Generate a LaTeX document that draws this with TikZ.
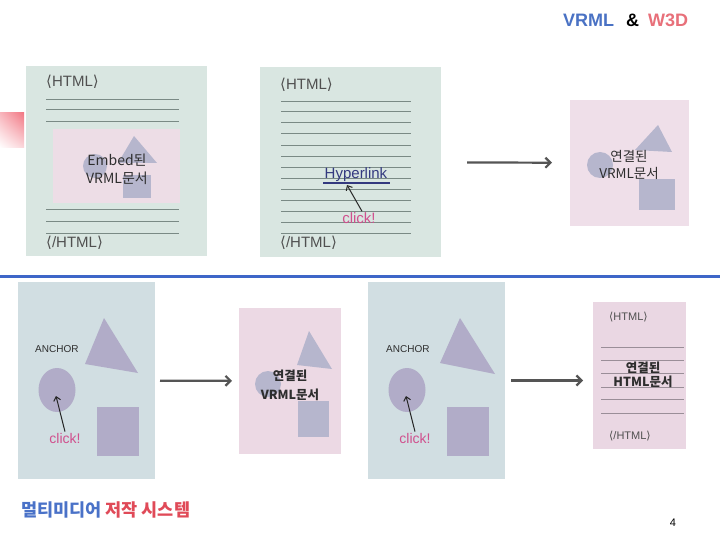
\documentclass[tikz,border=0pt]{standalone}
\usepackage{fontspec}
\setmainfont{Liberation Sans}
\newfontfamily\cjk{Noto Sans CJK KR}
\newfontfamily\dejavu{DejaVu Sans}
\usetikzlibrary{arrows.meta,shadings,shapes.geometric}
\definecolor{titleblue}{HTML}{4A72C4}
\definecolor{titlered}{HTML}{E8707A}
\definecolor{footblue}{HTML}{4A72C8}
\definecolor{footred}{HTML}{E04A58}
\definecolor{sepblue}{HTML}{3E66C8}
\definecolor{pgreen}{HTML}{D9E6E1}
\definecolor{ppinkin}{HTML}{EDDDE6}
\definecolor{ppink3}{HTML}{EFDFE9}
\definecolor{pblue}{HTML}{D1DEE2}
\definecolor{ppink5}{HTML}{ECD9E4}
\definecolor{ppink7}{HTML}{EAD7E3}
\definecolor{shapec}{HTML}{B6B6CD}
\definecolor{shapeb}{HTML}{B1ACC8}
\definecolor{linec}{HTML}{7A8A85}
\definecolor{linep}{HTML}{9A8E98}
\definecolor{tagc}{HTML}{505050}
\definecolor{textc}{HTML}{2E2E2E}
\definecolor{clickc}{HTML}{D0508E}
\definecolor{hypc}{HTML}{33397F}
\definecolor{arrowc}{HTML}{555555}
\definecolor{accA}{HTML}{F27884}
\definecolor{accB}{HTML}{F8B6BD}
\definecolor{accC}{HTML}{FBD8DC}
\newcommand{\lt}{{\dejavu ⟨}}
\newcommand{\gt}{{\dejavu ⟩}}
\begin{document}
\begin{tikzpicture}[x=1pt,y=-1pt,
  panel/.style={draw=none, inner sep=0pt, outer sep=0pt},
  shp/.style={fill=shapec},
  shpb/.style={fill=shapeb},
  hline/.style={draw=linec, line width=1pt},
  hlinep/.style={draw=linep, line width=1pt},
  tag/.style={anchor=west, inner sep=0pt, text=tagc, font=\fontsize{15}{15}\selectfont},
  tagsm/.style={anchor=west, inner sep=0pt, text=tagc, font=\fontsize{11}{11}\selectfont},
  arr/.style={draw=arrowc, line width=2.2pt, -{Straight Barb[length=5pt,width=10pt]}},
  clk/.style={draw=black!85, line width=1pt, -{Straight Barb[length=4pt,width=7pt]}},
  clicktxt/.style={text=clickc, inner sep=1pt},
  anc/.style={anchor=west, inner sep=0pt, text=textc, font=\fontsize{10}{10}\selectfont}
]
\useasboundingbox (0,0) rectangle (720,540);
\fill[white] (0,0) rectangle (720,540);

% title
\node[anchor=base west, inner sep=0pt, font=\bfseries\fontsize{18}{18}\selectfont, text=titleblue] (t1) at (563,27) {VRML};
\node[anchor=base west, inner sep=0pt, font=\bfseries\fontsize{18}{18}\selectfont, text=black] (t2) at (626,27) {\&};
\node[anchor=base west, inner sep=0pt, font=\bfseries\fontsize{18}{18}\selectfont, text=titlered] (t3) at (648,27) {W3D};

% red accent
\shade[upper right=accA, upper left=accB, lower right=accC, lower left=white] (0,113) rectangle (24,148);

% separator
\draw[sepblue, line width=3pt] (0,276.5) -- (720,276.5);

% ---------- panel 1 ----------
\node[panel, fill=pgreen, minimum width=181pt, minimum height=190pt] (p1) at (116.5,161) {};
\node[tag] (p1a) at (46,82) {\lt HTML\gt};
\foreach \yy in {100,110,122,210,222,233} \draw[hline] (46,\yy) -- (179,\yy);
\node[panel, fill=ppinkin, minimum width=127pt, minimum height=74pt] (p1in) at (116.5,166) {};
\fill[shp] (95,166) circle (12);
\fill[shp] (134,136) -- (118,163) -- (157,163) -- cycle;
\fill[shp] (123,175) rectangle (151,198);
\node[font=\cjk\fontsize{14}{18}\selectfont, align=center, text=textc, inner sep=0pt] (e1) at (117,169) {Embed된\\VRML문서};
\node[tag] (p1b) at (46,243) {\lt/HTML\gt};

% ---------- panel 2 ----------
\node[panel, fill=pgreen, minimum width=181pt, minimum height=190pt] (p2) at (350.5,162) {};
\node[tag] (p2a) at (280,85) {\lt HTML\gt};
\foreach \yy in {102,112,123,134,146,157,168,179,190,201,212,223,233} \draw[hline] (281,\yy) -- (411,\yy);
\node[text=hypc, font=\fontsize{15}{15}\selectfont, inner sep=0pt] (hyp) at (356,175) {Hyperlink};
\draw[draw=hypc, line width=2pt] (323,183) -- (390,183);
\coordinate (hyptip) at (347,185);
\node[clicktxt, font=\fontsize{15}{15}\selectfont] (ck2) at (359,218) {click!};
\draw[clk] ([xshift=3pt]ck2.north) -- (hyptip);
\node[tag] (p2b) at (280,243) {\lt/HTML\gt};

% ---------- panel 3 ----------
\node[panel, fill=ppink3, minimum width=119pt, minimum height=126pt] (p3) at (629.5,163) {};
\fill[shp] (600,165) circle (13);
\fill[shp] (658,125) -- (635,150) -- (672,152) -- cycle;
\fill[shp] (639,179) rectangle (675,210);
\node[font=\cjk\fontsize{13.5}{17}\selectfont, align=center, text=textc, inner sep=0pt] (e3) at (629,165) {연결된\\VRML문서};

% arrow 1
\draw[arr, shorten <=26pt, shorten >=18pt] (p2) -- (p3);

% ---------- panel 4 ----------
\node[panel, fill=pblue, minimum width=137pt, minimum height=197pt] (p4) at (86.5,380.5) {};
\node[anc] (an4) at (35,349) {ANCHOR};
\fill[shpb] (104,318) -- (85,364) -- (138,373) -- cycle;
\node[shpb, ellipse, minimum width=37pt, minimum height=44pt, inner sep=0pt] (c4) at (57,390) {};
\fill[shpb] (97,407) rectangle (139,456);
\coordinate (c4t) at (56,396);
\node[clicktxt, font=\fontsize{14}{14}\selectfont] (ck4) at (65,438) {click!};
\draw[clk] (ck4.north) -- (c4t);

% ---------- panel 5 ----------
\node[panel, fill=ppink5, minimum width=102pt, minimum height=146pt] (p5) at (290,381) {};
\fill[shp] (268,384) circle (13);
\fill[shp] (309,331) -- (297,365) -- (332,369) -- cycle;
\fill[shp] (298,401) rectangle (329,437);
\node[font=\cjk\bfseries\fontsize{12.5}{19}\selectfont, align=center, text=textc, inner sep=0pt] (e5) at (290,385.5) {연결된\\VRML문서};

\draw[arr, shorten <=5pt, shorten >=7pt] (p4) -- (p5);

% ---------- panel 6 ----------
\node[panel, fill=pblue, minimum width=137pt, minimum height=197pt] (p6) at (436.5,380.5) {};
\node[anc] (an6) at (386,349) {ANCHOR};
\fill[shpb] (460,318) -- (440,363) -- (495,374) -- cycle;
\node[shpb, ellipse, minimum width=37pt, minimum height=44pt, inner sep=0pt] (c6) at (407,390) {};
\fill[shpb] (447,407) rectangle (489,456);
\coordinate (c6t) at (406,396);
\node[clicktxt, font=\fontsize{14}{14}\selectfont] (ck6) at (415,438) {click!};
\draw[clk] (ck6.north) -- (c6t);

% ---------- panel 7 ----------
\node[panel, fill=ppink7, minimum width=93pt, minimum height=147pt] (p7) at (639.5,375.5) {};
\node[tagsm] (p7a) at (609,317) {\lt HTML\gt};
\foreach \yy in {347,360,373,387,399,413} \draw[hlinep] (601,\yy) -- (684,\yy);
\node[font=\cjk\bfseries\fontsize{12.5}{14}\selectfont, align=center, text=textc, inner sep=0pt] (e7) at (643,375) {연결된\\HTML문서};
\node[tagsm] (p7b) at (609,436) {\lt/HTML\gt};

\draw[arr, shorten <=6pt, shorten >=10pt] (p6.east) -- (p6.east -| p7.west);

% footer
\node[anchor=west, inner sep=0pt, font=\cjk\bfseries\fontsize{17.5}{18}\selectfont] (foot) at (21,510) {\textcolor{footblue}{멀티미디어} \textcolor{footred}{저작 시스템}};
\node[font=\fontsize{11}{11}\selectfont, inner sep=0pt] (pn) at (673,523) {4};
\end{tikzpicture}
\end{document}
